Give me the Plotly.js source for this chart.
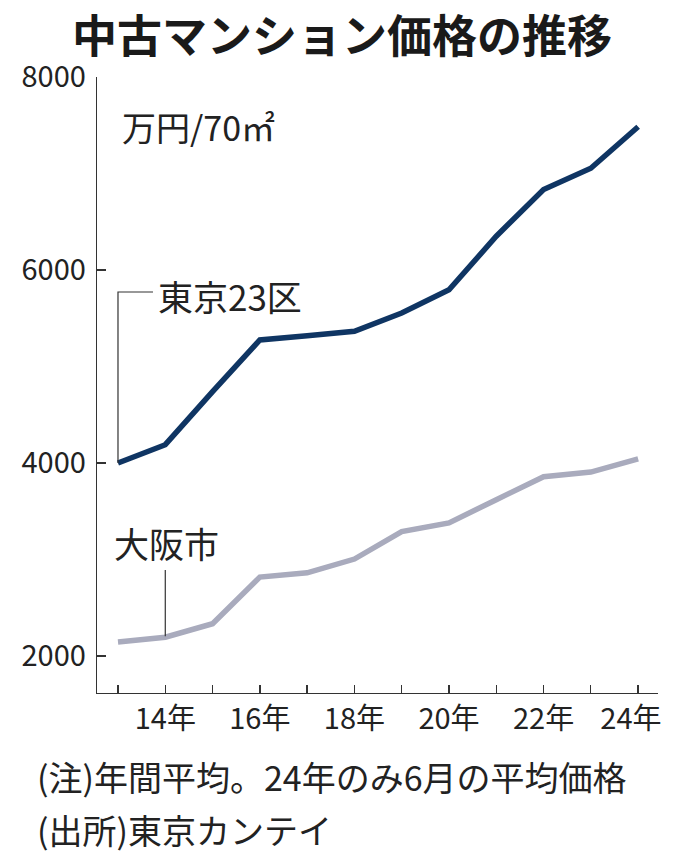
<!DOCTYPE html>
<html>
<head>
<meta charset="utf-8">
<script src="https://cdn.plot.ly/plotly-3.0.1.min.js"></script>
<style>
  html, body { margin: 0; padding: 0; background: #fff; }
  #chart { width: 680px; height: 862px; }
</style>
</head>
<body>
<div id="chart"></div>
<script>
// data (万円/70㎡)
var years = [2013, 2014, 2015, 2016, 2017, 2018, 2019, 2020, 2021, 2022, 2023, 2024];
var tokyo = [4000, 4190, 4740, 5275, 5320, 5365, 5555, 5795, 6350, 6835, 7055, 7485];
var osaka = [2145, 2195, 2335, 2818, 2862, 3005, 3290, 3380, 3620, 3858, 3906, 4043];
var tickLabels = ['', '14年', '', '16年', '', '18年', '', '20年', '', '22年', '', '24年\u2002'];
var yTicks = [2000, 4000, 6000, 8000];

var FONT = "'Noto Sans CJK JP', 'Noto Sans', sans-serif";
var INK = '#222';

var traces = [
	{
		x: years, y: osaka, type: 'scatter', mode: 'lines',
		line: {color: '#a9abbd', width: 5.5},
		hoverinfo: 'skip'
	},
	{
		x: years, y: tokyo, type: 'scatter', mode: 'lines',
		line: {color: '#0f3563', width: 5.5},
		hoverinfo: 'skip'
	}
];

var layout = {
	width: 680,
	height: 862,
	margin: {l: 97, r: 22, t: 77, b: 169},
	paper_bgcolor: '#fff',
	plot_bgcolor: '#fff',
	showlegend: false,
	font: {family: FONT, color: INK},
	title: {
		text: '<b>中古マンション価格の推移</b>',
		font: {family: FONT, size: 45, color: '#1a1a1a'},
		x: 0.503, xanchor: 'center',
		y: 0.957, yanchor: 'middle'
	},
	xaxis: {
		range: [2012.556, 2024.42],
		tickvals: years,
		ticktext: tickLabels,
		ticks: 'inside', ticklen: 8, tickwidth: 1.3, tickcolor: '#333',
		showline: true, linecolor: '#333', linewidth: 1.3,
		showgrid: false, zeroline: false,
		ticklabeloverflow: 'allow',
		tickfont: {family: FONT, size: 29, color: INK},
		fixedrange: true
	},
	yaxis: {
		range: [1617, 8000],
		tickvals: yTicks,
		ticks: 'inside', ticklen: 9, tickwidth: 1.3, tickcolor: '#333',
		showline: true, linecolor: '#333', linewidth: 1.3,
		showgrid: false, zeroline: false,
		ticklabelstandoff: 4,
		tickfont: {family: FONT, size: 29, color: INK},
		fixedrange: true
	},
	shapes: [
		// leader for 東京23区
		{type: 'path', xref: 'x', yref: 'y',
		 path: 'M 2013,4000 L 2013,5772 L 2013.74,5772',
		 line: {color: '#333', width: 1.2}},
		// leader for 大阪市
		{type: 'line', xref: 'x', yref: 'y',
		 x0: 2014, x1: 2014, y0: 2205, y1: 2891,
		 line: {color: '#333', width: 1.2}}
	],
	annotations: [
		{text: '万円/70㎡', xref: 'x', yref: 'y', x: 2013.04, y: 7482,
		 xanchor: 'left', yanchor: 'middle', showarrow: false,
		 font: {family: FONT, size: 34, color: INK}},
		{text: '東京23区', xref: 'x', yref: 'y', x: 2013.8, y: 5741,
		 xanchor: 'left', yanchor: 'middle', showarrow: false,
		 font: {family: FONT, size: 35, color: INK}},
		{text: '大阪市', xref: 'x', yref: 'y', x: 2012.88, y: 3181,
		 xanchor: 'left', yanchor: 'middle', showarrow: false,
		 font: {family: FONT, size: 35, color: INK}},
		{text: '(注)年間平均。24年のみ6月の平均価格', xref: 'paper', yref: 'paper',
		 x: -0.1105, y: -0.136, xanchor: 'left', yanchor: 'middle', showarrow: false,
		 font: {family: FONT, size: 34, color: INK}},
		{text: '(出所)東京カンテイ', xref: 'paper', yref: 'paper',
		 x: -0.1105, y: -0.222, xanchor: 'left', yanchor: 'middle', showarrow: false,
		 font: {family: FONT, size: 34, color: INK}}
	]
};

Plotly.newPlot('chart', traces, layout, {staticPlot: true, displayModeBar: false});
</script>
</body>
</html>
